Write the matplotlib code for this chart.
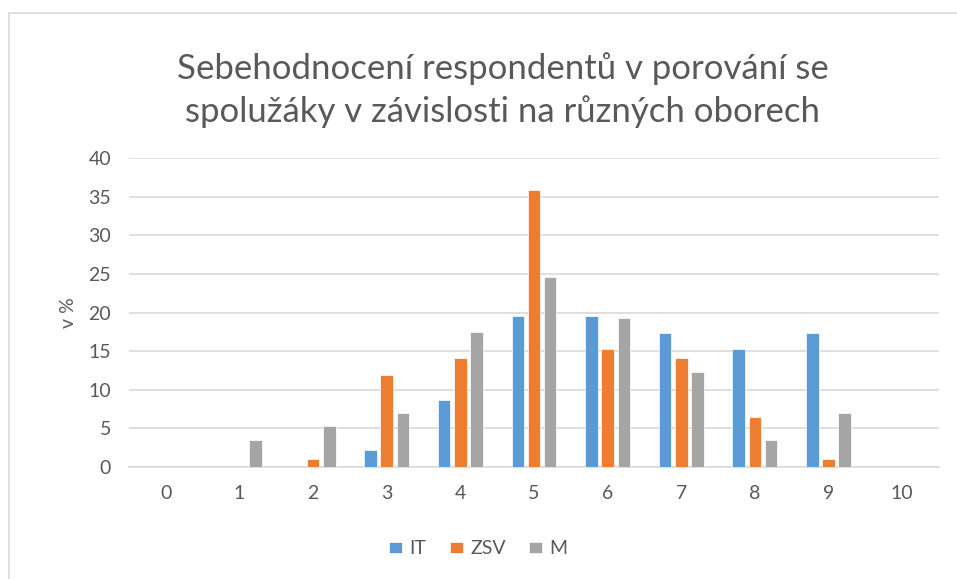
import numpy as np
import matplotlib.pyplot as plt
from matplotlib.patches import Rectangle

# Share of respondents (%) per self-rating score, by field of study
scores = list(range(11))
it_pct = [0, 0, 0, 2.17, 8.70, 19.57, 19.57, 17.39, 15.22, 17.39, 0]
zsv_pct = [0, 0, 1.09, 11.96, 14.13, 35.87, 15.22, 14.13, 6.52, 1.09, 0]
m_pct = [0, 3.51, 5.26, 7.02, 17.54, 24.56, 19.30, 12.28, 3.51, 7.02, 0]

series = [("IT", it_pct, "#5B9BD5"), ("ZSV", zsv_pct, "#ED7D31"), ("M", m_pct, "#A5A5A5")]
TEXT = "#595959"

plt.rcParams["font.family"] = ["Lato", "DejaVu Sans"]

fig = plt.figure(figsize=(9.57, 5.79), dpi=100)
ax = fig.add_axes([129 / 957, 1 - 467 / 579, (939 - 129) / 957, (467 - 158) / 579])

# chart area border, as in the office export
fig.patches.append(Rectangle((9 / 957, -0.05), 1.1, 1 - 13 / 579 + 0.05, transform=fig.transFigure,
                             fill=False, edgecolor="#D9D9D9", linewidth=1.2))

x = np.arange(len(scores))
width, step = 0.17, 0.22
for i, (name, vals, color) in enumerate(series):
    ax.bar(x + (i - 1) * step, vals, width, color=color, label=name, zorder=3,
           edgecolor="white", linewidth=0.5)

ax.set_xlim(-0.5, 10.5)
ax.set_ylim(0, 40)
ax.set_yticks(range(0, 41, 5))
ax.set_xticks(x)
ax.set_xticklabels([str(s) for s in scores])
ax.grid(axis="y", color="#D9D9D9", linewidth=1.2, zorder=0)
for side in ["top", "right", "left"]:
    ax.spines[side].set_visible(False)
ax.spines["bottom"].set_color("#D9D9D9")
ax.spines["bottom"].set_linewidth(1.2)
ax.tick_params(axis="both", length=0, labelsize=14, colors=TEXT)
ax.tick_params(axis="x", pad=13)
ax.tick_params(axis="y", pad=13)
ax.set_ylabel("v %", fontsize=14, color=TEXT, labelpad=8)

fig.text(0.525, 1 - 90 / 579,
         "Sebehodnocení respondentů v porování se\nspolužáky v závislosti na různých oborech",
         ha="center", va="center", fontsize=25, color=TEXT, linespacing=1.38)

fig.legend(loc="center", bbox_to_anchor=(0.5, 1 - 549 / 579), ncol=3, frameon=False,
           fontsize=14, labelcolor=TEXT, handlelength=0.65, handleheight=0.5,
           handletextpad=0.4, columnspacing=1.2)

fig.savefig("out.png", dpi=100)
